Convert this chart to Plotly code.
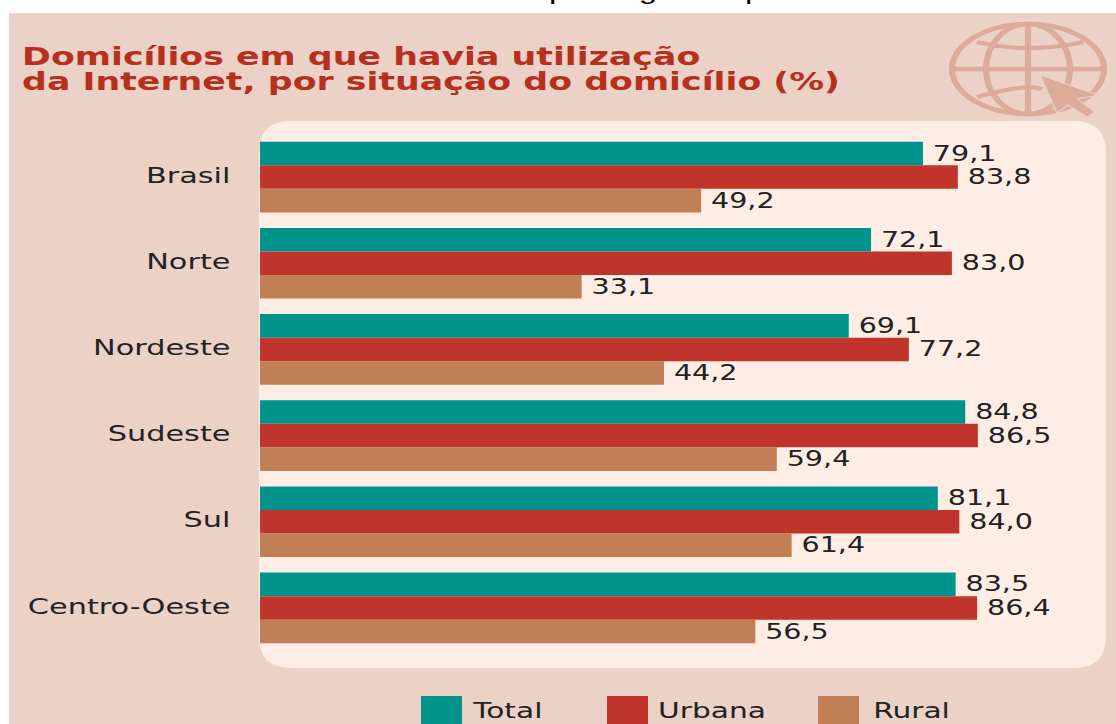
import plotly.graph_objects as go

W, H = 1116, 724
FIG_W = 809  # the source picture is stretched sideways; the page stretches the figure to W
categories = ["Brasil", "Norte", "Nordeste", "Sudeste", "Sul", "Centro-Oeste"]
total = [79.1, 72.1, 69.1, 84.8, 81.1, 83.5]
urbana = [83.8, 83.0, 77.2, 86.5, 84.0, 86.4]
rural = [49.2, 33.1, 44.2, 59.4, 61.4, 56.5]
series_names = ["Total", "Urbana", "Rural"]
colors = ["#00938C", "#C0352B", "#C17F55"]
BG, PANEL, TITLE, ICON, INK = "#EBD1C6", "#FDEDE4", "#B5301F", "#DDAB9A", "#222222"
FONT = "DejaVu Sans"
BASE = -10.25  # bars in the source start left of zero

def fx(x): return x / W
def fy(y): return 1 - y / H
def pth(cmds):
    out = []
    for c in cmds:
        if isinstance(c, str):
            out.append(c)
        else:
            out.append(f"{fx(c[0]):.5f},{fy(c[1]):.5f}")
    return " ".join(out)

fig = go.Figure()
for name, vals, col in zip(series_names, [total, urbana, rural], colors):
    fig.add_bar(
        name=name, y=categories, x=[v - BASE for v in vals], base=BASE, orientation="h",
        marker=dict(color=col, line=dict(width=0)),
        text=["\u2009" + f"{v:.1f}".replace(".", ",") for v in vals], textposition="outside",
        textfont=dict(family=FONT, size=22, color=INK), cliponaxis=False, showlegend=False,
    )

shapes = []
def rect(x0, y0, x1, y1, col, layer="below"):
    shapes.append(dict(type="rect", xref="paper", yref="paper", x0=fx(x0), x1=fx(x1), y0=fy(y0), y1=fy(y1),
                       fillcolor=col, line_width=0, layer=layer))
def path(cmds, fill=None, line=None, w=0, layer="below"):
    shapes.append(dict(type="path", xref="paper", yref="paper", path=pth(cmds), fillcolor=fill,
                       line=dict(color=line, width=w), layer=layer))

rect(9, 13, W, H, BG)
# rounded panel
x0, y0, x1, y1, r = 259, 121, 1106, 668, 32
path(["M", (x0 + r, y0), "L", (x1 - r, y0), "Q", (x1, y0), (x1, y0 + r), "L", (x1, y1 - r), "Q", (x1, y1), (x1 - r, y1),
      "L", (x0 + r, y1), "Q", (x0, y1), (x0, y1 - r), "L", (x0, y0 + r), "Q", (x0, y0), (x0 + r, y0), "Z"], fill=PANEL, w=0)

# globe icon
def ell(cx, cy, rx, ry, w=4.5):
    shapes.append(dict(type="circle", xref="paper", yref="paper", x0=fx(cx - rx), x1=fx(cx + rx), y0=fy(cy + ry), y1=fy(cy - ry),
                       line=dict(color=ICON, width=w), fillcolor="rgba(0,0,0,0)", layer="below"))
cx, cy = 1028, 69
ell(cx, cy, 76, 45)
ell(cx, cy, 42, 45)
path(["M", (cx, 24), "L", (cx, 114)], line=ICON, w=4.5)
path(["M", (952, cy), "L", (1104, cy)], line=ICON, w=4.5)
path(["M", (977, 42), "Q", (cx, 54), (1083, 42)], line=ICON, w=4)
path(["M", (977, 97), "Q", (cx, 83), (1042, 89)], line=ICON, w=4)
# cursor
path(["M", (1040, 75), "L", (1098, 95), "L", (1077, 99), "L", (1095, 112), "L", (1087, 117), "L", (1068, 105), "L", (1057, 113), "Z"],
     fill=ICON, line=BG, w=1)

# legend
for x, col in zip([421, 607, 818], colors):
    rect(x, 696, x + 41, H, col, layer="above")

annots = []
def text(x, y, s, size, col=INK, family=FONT, anchor="left", bold=False):
    annots.append(dict(xref="paper", yref="paper", x=fx(x), y=fy(y), text=f"<b>{s}</b>" if bold else s, showarrow=False,
                       xanchor=anchor, yanchor="middle", align=anchor, font=dict(family=family, size=size, color=col)))
text(20, 56, "Domicílios em que havia utilização", 25.2, TITLE, bold=True)
text(20, 81, "da Internet, por situação do domicílio (%)", 25.2, TITLE, bold=True)
for x, n in zip([469, 655, 870], series_names):
    text(x, 710, n, 21.5)
for x, s in zip([558, 647, 754], "pgp"):
    text(x, -9, s, 24, "#000000", "Liberation Sans", "center")

fig.update_layout(
    width=FIG_W, height=H, margin=dict(l=0, r=0, t=0, b=0), paper_bgcolor="#FFFFFF", plot_bgcolor="rgba(0,0,0,0)",
    barmode="group", bargap=0.18, bargroupgap=0, shapes=shapes, annotations=annots,
    font=dict(family=FONT, color=INK),
    xaxis=dict(domain=[fx(260), fx(1106)], range=[BASE, BASE + 846 / 7.42], visible=False, fixedrange=True),
    yaxis=dict(domain=[fy(651), fy(134)], autorange=False, range=[5.5, -0.5], showline=False, showgrid=False, ticks="outside",
               ticklen=16, tickcolor="rgba(0,0,0,0)", ticklabelshift=2,
               tickfont=dict(family=FONT, size=22, color=INK), fixedrange=True),
)
fig.write_html("out.html", config=dict(displayModeBar=False),
               post_script=("document.body.style.margin='0';document.body.style.overflow='hidden';"
                            "var g=document.querySelector('.plotly-graph-div');g.style.transformOrigin='0 0';"
                            f"g.style.transform='scaleX({W / FIG_W:.5f})';"))
